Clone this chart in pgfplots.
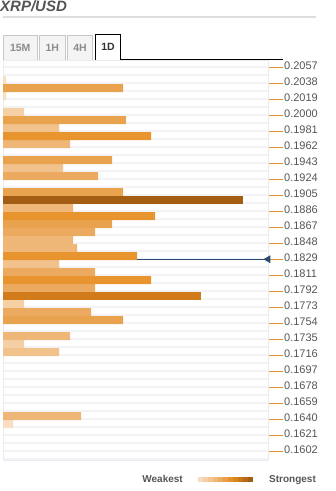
\documentclass[border=0pt]{standalone}
\usepackage{pgfplots}
\pgfplotsset{compat=1.18}
\usepackage{fontspec}
\setmainfont{Liberation Sans}
\definecolor{c1}{HTML}{F9DEC2}
\definecolor{c2}{HTML}{F6D0A5}
\definecolor{c3}{HTML}{F2C28D}
\definecolor{c4}{HTML}{EFB777}
\definecolor{c5}{HTML}{ECAA60}
\definecolor{c6}{HTML}{E9A24D}
\definecolor{c7}{HTML}{E8942F}
\definecolor{c8}{HTML}{D17B1B}
\definecolor{c9}{HTML}{A35E14}
\definecolor{txt}{HTML}{555555}
\definecolor{tabtxt}{HTML}{8C8C8C}
\definecolor{tabfill}{HTML}{F4F4F4}
\definecolor{tabborder}{HTML}{C8C8C8}
\definecolor{rulec}{HTML}{DDDDDD}
\definecolor{gridc}{HTML}{F2F2F7}
\definecolor{borderc}{HTML}{EAEAEF}
\definecolor{tickor}{HTML}{E0912F}
\definecolor{pricec}{HTML}{2B4A72}
\begin{document}
\begin{tikzpicture}
\useasboundingbox (0,0) rectangle (336bp,-491bp);
% title
\node[anchor=base west, inner sep=0, text=txt, font=\fontsize{15bp}{15bp}\selectfont\bfseries\itshape] at (0bp,-11bp) {XRP/USD};
\draw[color=rulec, line width=2bp] (3bp,-17bp) -- (316bp,-17bp);
% tabs
\filldraw[fill=tabfill, draw=tabborder, line width=0.8bp] (3.5bp,-35bp) rectangle (37bp,-60bp);
\filldraw[fill=tabfill, draw=tabborder, line width=0.8bp] (39.5bp,-35bp) rectangle (65bp,-60bp);
\filldraw[fill=tabfill, draw=tabborder, line width=0.8bp] (67.5bp,-35bp) rectangle (92.5bp,-60bp);
\node[text=tabtxt, font=\fontsize{10.5bp}{10.5bp}\selectfont\bfseries, inner sep=0] at (20.25bp,-47.5bp) {15M};
\node[text=tabtxt, font=\fontsize{10.5bp}{10.5bp}\selectfont\bfseries, inner sep=0] at (52.25bp,-47.5bp) {1H};
\node[text=tabtxt, font=\fontsize{10.5bp}{10.5bp}\selectfont\bfseries, inner sep=0] at (80bp,-47.5bp) {4H};
\fill[white] (95.5bp,-34.5bp) rectangle (120.5bp,-59.5bp);
\draw[black, line width=1bp] (95.5bp,-59.5bp) -- (95.5bp,-34.5bp) -- (120.5bp,-34.5bp) -- (120.5bp,-59.5bp) -- (283bp,-59.5bp);
\node[text=black!80, font=\fontsize{10.5bp}{10.5bp}\selectfont\bfseries, inner sep=0] at (108bp,-47bp) {1D};
\begin{axis}[
  at={(3bp,-60bp)}, anchor=north west,
  width=265bp, height=400bp, scale only axis,
  xmin=0, xmax=265, ymin=-0.5, ymax=49.5, y dir=reverse,
  xtick=\empty,
  ytick={0.375,2.375,4.375,6.375,8.375,10.375,12.375,14.375,16.375,18.375,20.375,22.375,24.375,26.375,28.375,30.375,32.375,34.375,36.375,38.375,40.375,42.375,44.375,46.375,48.375},
  yticklabels={0.2057,0.2038,0.2019,0.2000,0.1981,0.1962,0.1943,0.1924,0.1905,0.1886,0.1867,0.1848,0.1829,0.1811,0.1792,0.1773,0.1754,0.1735,0.1716,0.1697,0.1678,0.1659,0.1640,0.1621,0.1602},
  ytick pos=right, yticklabel pos=right,
  tick align=outside,
  major tick length=15bp,
  minor tick length=0pt,
  ytick style={draw=tickor, line width=0.9bp},
  yticklabel style={font=\fontsize{11bp}{11bp}\selectfont, text=txt, anchor=west, inner sep=0pt, xshift=1bp, yshift=1bp},
  minor ytick={0.375,1.375,...,49.375},
  yminorgrids, minor grid style={draw=gridc, line width=2bp},
  axis line style={draw=borderc, line width=1bp},
  clip=false,
]
\addplot[xbar, bar width=1, bar shift=0pt, fill=c1, draw=none] coordinates {(3,2) (3,4) (10,45)};
\addplot[xbar, bar width=1, bar shift=0pt, fill=c2, draw=none] coordinates {(21,6) (21,30) (21,35)};
\addplot[xbar, bar width=1, bar shift=0pt, fill=c3, draw=none] coordinates {(56,8) (60,13) (56,25) (56,36)};
\addplot[xbar, bar width=1, bar shift=0pt, fill=c4, draw=none] coordinates {(67,10) (70,18) (70,22) (74,23) (67,34) (78,44)};
\addplot[xbar, bar width=1, bar shift=0pt, fill=c5, draw=none] coordinates {(95,14) (92,21) (92,26) (92,28) (88,31)};
\addplot[xbar, bar width=1, bar shift=0pt, fill=c6, draw=none] coordinates {(120,3) (123,7) (109,12) (120,16) (109,20) (120,32)};
\addplot[xbar, bar width=1, bar shift=0pt, fill=c7, draw=none] coordinates {(148,9) (152,19) (134,24) (148,27)};
\addplot[xbar, bar width=1, bar shift=0pt, fill=c8, draw=none] coordinates {(198,29)};
\addplot[xbar, bar width=1, bar shift=0pt, fill=c9, draw=none] coordinates {(240,17)};
\addplot[color=pricec, line width=1bp, mark=triangle*, mark size=3.5bp, mark indices={2}, mark options={fill=pricec, rotate=90}] coordinates {(134,24.4) (265,24.4)};
\end{axis}
% legend
\node[anchor=base east, inner sep=0, text=txt, font=\fontsize{10bp}{10bp}\selectfont\bfseries] at (183bp,-482bp) {Weakest};
\node[anchor=base west, inner sep=0, text=txt, font=\fontsize{10bp}{10bp}\selectfont\bfseries] at (269bp,-482bp) {Strongest};
\foreach \c [count=\i from 0] in {F8DCBF,F5D0A6,F2C48E,EFB877,ECAC5F,E9A048,E8922F,D9861F,C97719,B66A16,A35E14} {
  \definecolor{tmp}{HTML}{\c}
  \fill[tmp] ({198bp+\i*5bp},-477bp) rectangle ({203bp+\i*5bp},-482bp);
}
\end{tikzpicture}
\end{document}
